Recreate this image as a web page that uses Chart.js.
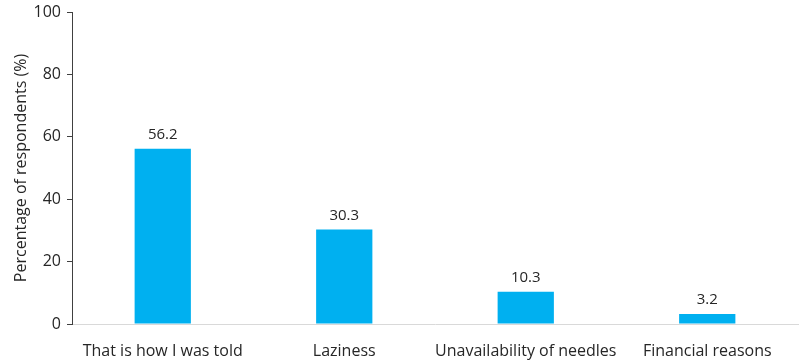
<!DOCTYPE html>
<html>
<head>
<meta charset="utf-8">
<script src="https://cdn.jsdelivr.net/npm/chart.js@4/dist/chart.umd.min.js"></script>
<style>
html,body{margin:0;padding:0;background:#fff;}
#wrap{width:800px;height:364px;}
</style>
</head>
<body>
<div id="wrap"><canvas id="c" width="800" height="364"></canvas></div>
<script>
const categories = ["That is how I was told", "Laziness", "Unavailability of needles", "Financial reasons"];
const values = [56.2, 30.3, 10.3, 3.2];
const yTicks = [0, 20, 40, 60, 80, 100];
const yTitle = "Percentage of respondents (%)";

const FONT = "'Open Sans', 'Noto Sans', sans-serif";
const TXT = "#262626";

const labelPlugin = {
  id: 'barLabels',
  afterDatasetsDraw(chart) {
    const ctx = chart.ctx;
    const meta = chart.getDatasetMeta(0);
    ctx.save();
    ctx.font = "15px " + FONT;
    ctx.fillStyle = TXT;
    ctx.textAlign = 'center';
    ctx.textBaseline = 'middle';
    meta.data.forEach((bar, i) => {
      ctx.fillText(values[i].toFixed(1), bar.x, bar.y - 14);
    });
    ctx.restore();
  }
};

new Chart(document.getElementById('c'), {
  type: 'bar',
  data: {
    labels: categories,
    datasets: [{
      data: values,
      backgroundColor: '#00B0F0',
      borderWidth: 0,
      barPercentage: 0.62,
      categoryPercentage: 0.5
    }]
  },
  options: {
    responsive: false,
    animation: false,
    devicePixelRatio: 1,
    layout: { padding: { left: 0, right: 2, top: 0, bottom: 0 } },
    plugins: {
      legend: { display: false },
      tooltip: { enabled: false }
    },
    scales: {
      x: {
        afterFit(scale) { scale.height = 40; },
        grid: { display: false, drawTicks: false },
        border: { display: true, color: '#d9d9d9', width: 1 },
        ticks: { font: { family: FONT, size: 16 }, color: TXT, padding: 18, maxRotation: 0, autoSkip: false }
      },
      y: {
        min: 0, max: 100,
        afterBuildTicks(scale) { scale.ticks = yTicks.map(v => ({ value: v })); },
        afterFit(scale) { scale.width = 72; scale.paddingTop = 12; scale.paddingBottom = 0; },
        grid: { drawOnChartArea: false, drawTicks: true, tickLength: 5, color: '#404040' },
        border: { display: true, color: '#404040', width: 1 },
        ticks: { font: { family: FONT, size: 16 }, color: TXT, padding: 6 },
        title: { display: true, text: yTitle, font: { family: FONT, size: 16 }, color: TXT, padding: { top: 12, bottom: 4 } }
      }
    }
  },
  plugins: [labelPlugin]
});
</script>
</body>
</html>
